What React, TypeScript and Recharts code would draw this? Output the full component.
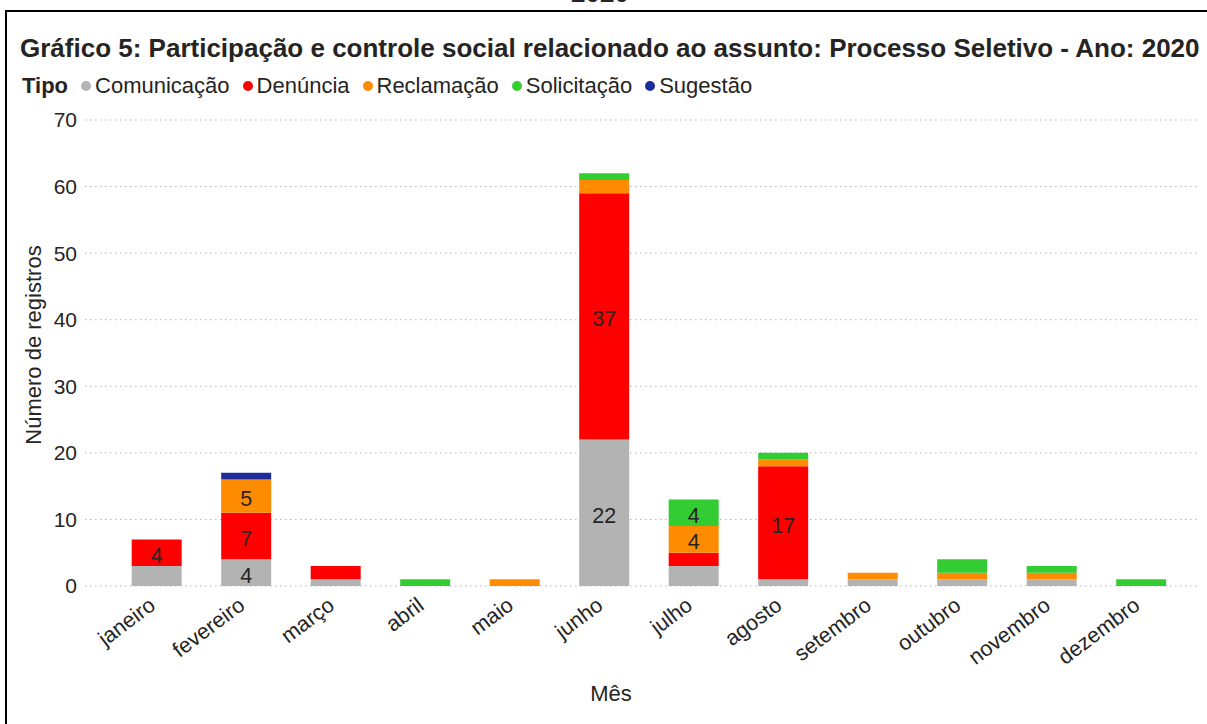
import React from 'react';
import { BarChart, Bar, XAxis, YAxis, CartesianGrid, LabelList } from 'recharts';

const months = ['janeiro', 'fevereiro', 'março', 'abril', 'maio', 'junho', 'julho', 'agosto', 'setembro', 'outubro', 'novembro', 'dezembro'];
const comunicacao = [3, 4, 1, 0, 0, 22, 3, 1, 1, 1, 1, 0];
const denuncia = [4, 7, 2, 0, 0, 37, 2, 17, 0, 0, 0, 0];
const reclamacao = [0, 5, 0, 0, 1, 2, 4, 1, 1, 1, 1, 0];
const solicitacao = [0, 0, 0, 1, 0, 1, 4, 1, 0, 2, 1, 1];
const sugestao = [0, 1, 0, 0, 0, 0, 0, 0, 0, 0, 0, 0];
const yTicks = [0, 10, 20, 30, 40, 50, 60, 70];

const seriesKeys = ['com', 'den', 'rec', 'sol', 'sug'];
const seriesNames = ['Comunicação', 'Denúncia', 'Reclamação', 'Solicitação', 'Sugestão'];
const seriesColors = ['#B3B3B3', '#FF0000', '#FF8C00', '#33CC33', '#1C2C9C'];

const titleText = 'Gráfico 5: Participação e controle social relacionado ao assunto: Processo Seletivo - Ano: 2020';
const legendTitle = 'Tipo';
const xTitle = 'Mês';
const yTitle = 'Número de registros';

const FONT = '"Liberation Sans", Arial, Helvetica, sans-serif';
const TEXT = '#252423';

const data = months.map((m, i) => ({
  month: m,
  com: comunicacao[i],
  den: denuncia[i],
  rec: reclamacao[i],
  sol: solicitacao[i],
  sug: sugestao[i],
}));

const XTick = (props: any) => {
  const { x, y, payload } = props;
  const ax = x;
  const ay = y + 22;
  return (
    <text x={ax} y={ay} transform={`rotate(-37, ${ax}, ${ay})`} textAnchor="end" fontSize={21.5} fontFamily={FONT} fill={TEXT}>
      {payload.value}
    </text>
  );
};

const YTick = (props: any) => {
  const { x, y, payload } = props;
  return (
    <text x={x} y={y} dy="0.355em" textAnchor="end" fontSize={21} fontFamily={FONT} fill={TEXT}>
      {payload.value}
    </text>
  );
};

const renderLabel = (props: any) => {
  const { x, y, width, height, value } = props;
  if (value == null || value < 4) return null;
  return (
    <text x={x + width / 2} y={y + height / 2 + 10} textAnchor="middle" fontSize={21.5} fontFamily={FONT} fill={TEXT}>
      {value}
    </text>
  );
};

export default function App() {
  return (
    <div style={{ position: 'absolute', left: 0, top: 0, width: 1207, height: 724, background: '#fff', overflow: 'hidden', fontFamily: FONT, color: TEXT }}>
      <div style={{ position: 'absolute', left: 5, top: 10, width: 1300, height: 800, borderLeft: '2px solid #000', borderTop: '2px solid #000', boxSizing: 'border-box' }} />
      <div style={{ position: 'absolute', left: 600, top: -22, transform: 'translateX(-50%)', fontSize: 26, lineHeight: '30px', fontWeight: 'bold', whiteSpace: 'nowrap' }}>2020</div>
      <div style={{ position: 'absolute', left: 20, top: 33, fontSize: 26, lineHeight: '30px', fontWeight: 'bold', whiteSpace: 'nowrap' }}>{titleText}</div>
      <div style={{ position: 'absolute', left: 22, top: 74, fontSize: 22, lineHeight: '24px', whiteSpace: 'nowrap', display: 'flex', alignItems: 'center' }}>
        <span style={{ fontWeight: 'bold' }}>{legendTitle}</span>
        {seriesNames.map((n, i) => (
          <span key={n} style={{ display: 'flex', alignItems: 'center' }}>
            <span style={{ display: 'inline-block', width: 10, height: 10, borderRadius: 5, background: seriesColors[i], marginLeft: 13, marginRight: 4 }} />
            <span>{n}</span>
          </span>
        ))}
      </div>
      <div style={{ position: 'absolute', left: 0, top: 0 }}>
        <BarChart width={1207} height={724} data={data} margin={{ top: 120, right: 7, bottom: 108, left: 0 }} barCategoryGap="22%">
          <CartesianGrid horizontal vertical={false} stroke="#B5B5B5" strokeDasharray="1.5 3.5" />
          <XAxis dataKey="month" axisLine={false} tickLine={false} tickSize={0} tickMargin={0} height={30} padding={{ left: 27, right: 14 }} interval={0} tick={<XTick />} />
          <YAxis domain={[0, 70]} ticks={yTicks} axisLine={false} tickLine={false} tickSize={0} tickMargin={8} width={85} tick={<YTick />} />
          {seriesKeys.map((k, i) => (
            <Bar key={k} dataKey={k} stackId="a" fill={seriesColors[i]} isAnimationActive={false}>
              <LabelList dataKey={k} content={renderLabel} />
            </Bar>
          ))}
        </BarChart>
      </div>
      <div style={{ position: 'absolute', left: 34, top: 345, transform: 'translate(-50%, -50%) rotate(-90deg)', fontSize: 22, lineHeight: '24px', whiteSpace: 'nowrap' }}>{yTitle}</div>
      <div style={{ position: 'absolute', left: 611, top: 694, transform: 'translate(-50%, -50%)', fontSize: 22, lineHeight: '24px', whiteSpace: 'nowrap' }}>{xTitle}</div>
    </div>
  );
}
